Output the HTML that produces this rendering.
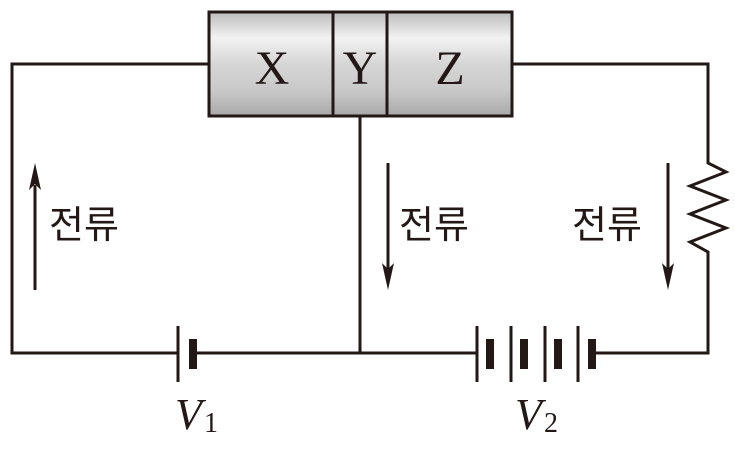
<!DOCTYPE html>
<html><head><meta charset="utf-8"><style>
html,body{margin:0;padding:0;background:#fff;}
svg{display:block;}
.k{font-family:"Liberation Sans","Noto Sans CJK KR",sans-serif;font-size:38px;fill:#231815;}
.s{font-family:"Liberation Serif",serif;fill:#231815;}
</style></head><body>
<svg width="735" height="450" viewBox="0 0 735 450" xmlns="http://www.w3.org/2000/svg">
<defs>
<linearGradient id="g" x1="0" y1="0" x2="0" y2="1">
<stop offset="0" stop-color="#bdbdbd"/>
<stop offset="0.25" stop-color="#f2f2f2"/>
<stop offset="0.5" stop-color="#d6d6d6"/>
<stop offset="0.75" stop-color="#c9c9c9"/>
<stop offset="1" stop-color="#a9a9a9"/>
</linearGradient>
</defs>
<g stroke="#231815" stroke-width="3" fill="none">
<polyline points="209,64 12,64 12,353 178,353"/>
<line x1="196" y1="353" x2="477" y2="353"/>
<line x1="360" y1="116" x2="360" y2="353"/>
<polyline points="512,64 708,64 708,163 726,172 690,186 726,200 690,214 726,228 690,242 708,252 708,353 596,353"/>
<line x1="178" y1="326" x2="178" y2="382"/>
<line x1="477" y1="326" x2="477" y2="382"/>
<line x1="511" y1="326" x2="511" y2="382"/>
<line x1="545" y1="326" x2="545" y2="382"/>
<line x1="578" y1="326" x2="578" y2="382"/>
<line x1="35" y1="290" x2="35" y2="185"/>
<line x1="388" y1="163" x2="388" y2="270"/>
<line x1="668" y1="163" x2="668" y2="270"/>
</g>
<g fill="#231815">
<rect x="189" y="339" width="8" height="30"/>
<rect x="486" y="339" width="8" height="30"/>
<rect x="520" y="339" width="8" height="30"/>
<rect x="554" y="339" width="8" height="30"/>
<rect x="588" y="339" width="8" height="30"/>
<polygon points="35,163 29,190 35,184 41,190"/>
<polygon points="388,290 382,263 388,269 394,263"/>
<polygon points="668,290 662,263 668,269 674,263"/>
</g>
<rect x="209" y="12" width="303" height="104" fill="url(#g)" stroke="#231815" stroke-width="3"/>
<line x1="333" y1="12" x2="333" y2="116" stroke="#231815" stroke-width="3"/>
<line x1="387" y1="12" x2="387" y2="116" stroke="#231815" stroke-width="3"/>
<text class="s" x="272" y="84" font-size="48" text-anchor="middle">X</text>
<text class="s" x="360" y="84" font-size="48" text-anchor="middle">Y</text>
<text class="s" x="450" y="84" font-size="48" text-anchor="middle">Z</text>
<text class="k" x="49" y="238">전류</text>
<text class="k" x="399" y="238">전류</text>
<text class="k" x="572" y="238">전류</text>
<text class="s" x="175" y="429" font-size="44" font-style="italic">V</text>
<text class="s" x="204" y="432" font-size="28">1</text>
<text class="s" x="515" y="429" font-size="44" font-style="italic">V</text>
<text class="s" x="544" y="432" font-size="28">2</text>
</svg>
</body></html>
